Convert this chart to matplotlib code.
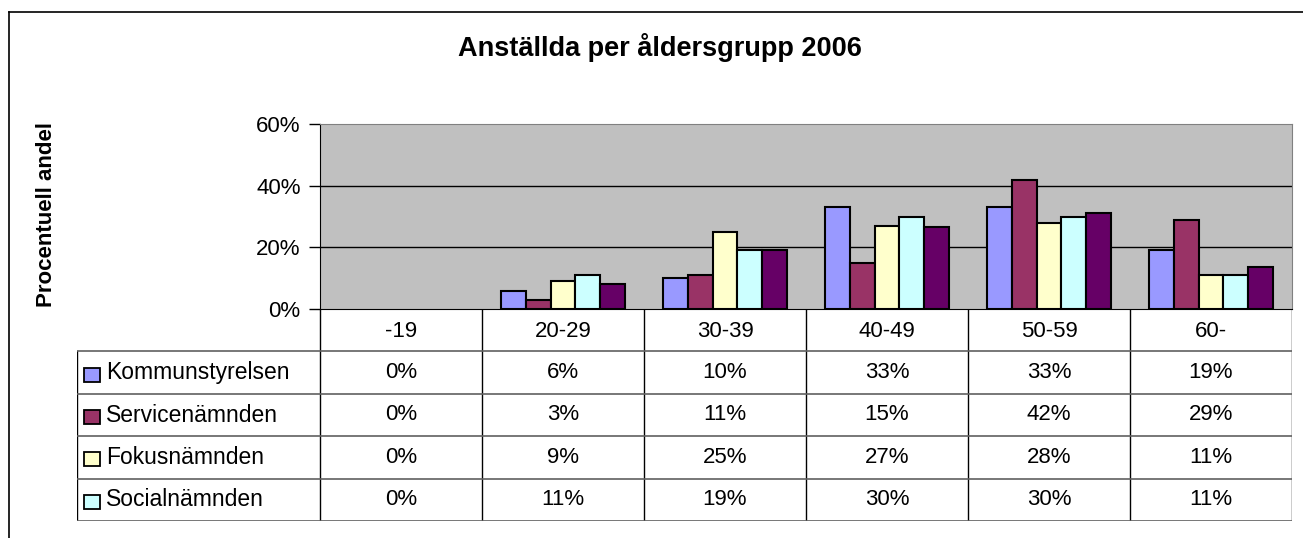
import matplotlib
matplotlib.use("Agg")
import matplotlib.pyplot as plt
from matplotlib.lines import Line2D
from matplotlib.patches import Rectangle
import numpy as np

plt.rcParams["font.family"] = ["Liberation Sans", "DejaVu Sans"]

categories = ["-19", "20-29", "30-39", "40-49", "50-59", "60-"]
series_names = ["Kommunstyrelsen", "Servicenämnden", "Fokusnämnden", "Socialnämnden", "Övriga"]
kommunstyrelsen = [0, 6, 10, 33, 33, 19]
servicenamnden = [0, 3, 11, 15, 42, 29]
fokusnamnden = [0, 9, 25, 27, 28, 11]
socialnamnden = [0, 11, 19, 30, 30, 11]
ovriga = [0, 8, 19, 26.5, 31, 13.5]
series_values = [kommunstyrelsen, servicenamnden, fokusnamnden, socialnamnden, ovriga]
colors = ["#9999FF", "#993366", "#FFFFCC", "#CCFFFF", "#660066"]
table_rows = 4  # the fifth table row is cut off in the original
yticks = [0, 20, 40, 60]

W, H = 1303, 538
fig = plt.figure(figsize=(W / 100, H / 100), dpi=100)


def fx(px):
    return px / W


def fy(py):
    return 1 - py / H


# frame around the chart (left and top edges visible)
fig.add_artist(Line2D([fx(9), fx(9)], [fy(12), 0], color="black", lw=1.2, transform=fig.transFigure))
fig.add_artist(Line2D([fx(9), 1], [fy(12), fy(12)], color="black", lw=1.2, transform=fig.transFigure))

fig.text(fx(660), fy(48), "Anställda per åldersgrupp 2006", ha="center", va="center",
         fontsize=19.5, fontweight="bold")
fig.text(fx(47), fy(214), "Procentuell andel", rotation=90, ha="center", va="center",
         fontsize=16, fontweight="bold")

# bar chart
x0, x1, ytop, ybot = 320, 1292, 124, 309
ax = fig.add_axes([fx(x0), fy(ybot), fx(x1 - x0), (ybot - ytop) / H])
ax.set_facecolor("#C0C0C0")
n = len(series_values)
bw = 1 / 6.5
x = np.arange(len(categories)) + 0.5
for i, (vals, c) in enumerate(zip(series_values, colors)):
    lws = [1.5 if v > 0 else 0 for v in vals]
    ax.bar(x + (i - (n - 1) / 2) * bw, vals, width=bw, color=c, edgecolor="black",
           linewidth=lws, zorder=3)
ax.set_xlim(0, len(categories))
ax.set_ylim(0, 60)
ax.set_yticks(yticks)
ax.set_yticklabels([f"{t}%" for t in yticks], fontsize=16)
ax.set_xticks([])
for t in yticks[1:-1]:
    ax.axhline(t, color="black", lw=1, zorder=1)
ax.tick_params(axis="y", length=8, width=1, pad=6, direction="out")
ax.spines["left"].set_color("black")
ax.spines["bottom"].set_color("black")
ax.spines["top"].set_color("#808080")
ax.spines["right"].set_color("#808080")

# data table below the chart
tx0, tybot = 77, 521
tax = fig.add_axes([fx(tx0), fy(tybot), fx(x1 - tx0), (tybot - ybot) / H])
leg_w = (x0 - tx0) / ((x1 - x0) / len(categories))
tax.set_xlim(-leg_w, len(categories))
tax.set_ylim(table_rows + 1, 0)
tax.axis("off")

ncat = len(categories)
# header row: category labels with separators
for j in range(ncat + 1):
    tax.plot([j, j], [0, table_rows + 1], color="black", lw=1)
for j, cat in enumerate(categories):
    tax.text(j + 0.5, 0.52, cat, ha="center", va="center", fontsize=16)
tax.plot([-leg_w, -leg_w], [1, table_rows + 1], color="black", lw=1)
for r in range(1, table_rows + 2):
    tax.plot([-leg_w, ncat], [r, r], color="#606060", lw=1.2)

for r in range(table_rows):
    yc = r + 1.5
    tax.add_patch(Rectangle((-leg_w + 0.045, yc - 0.12), 0.1, 0.33, facecolor=colors[r],
                            edgecolor="black", lw=1.3))
    tax.text(-leg_w + 0.18, yc, series_names[r], ha="left", va="center", fontsize=16.5)
    for j in range(ncat):
        tax.text(j + 0.5, yc, f"{series_values[r][j]:.0f}%", ha="center", va="center",
                 fontsize=16)

fig.savefig("out.png", dpi=100)
